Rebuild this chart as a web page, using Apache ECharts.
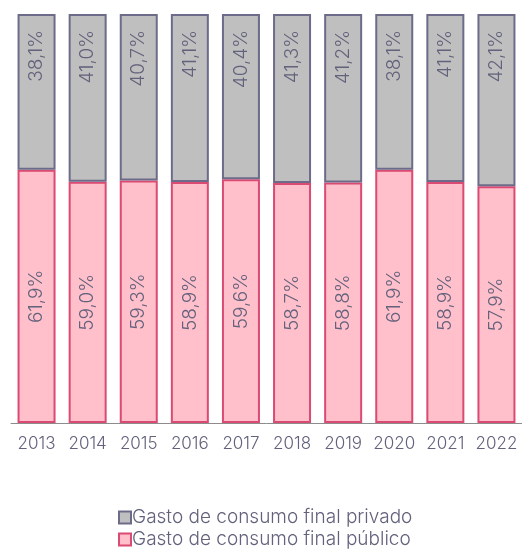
<!DOCTYPE html>
<html>
<head>
<meta charset="utf-8">
<script src="https://cdn.jsdelivr.net/npm/echarts@6/dist/echarts.min.js"></script>
<style>
  html, body { margin: 0; padding: 0; background: #fff; }
  #chart { width: 522px; height: 552px; }
</style>
</head>
<body>
<div id="chart"></div>
<script>
// años
var years = ['2013', '2014', '2015', '2016', '2017', '2018', '2019', '2020', '2021', '2022'];
// gasto de consumo final público (%)
var publico = [61.9, 59.0, 59.3, 58.9, 59.6, 58.7, 58.8, 61.9, 58.9, 57.9];
// gasto de consumo final privado (%)
var privado = [38.1, 41.0, 40.7, 41.1, 40.4, 41.3, 41.2, 38.1, 41.1, 42.1];

var textColor = '#62627c';
var font = 'Inter';

function fmt(p) {
  return p.value.toFixed(1).replace('.', ',') + '%';
}

var chart = echarts.init(document.getElementById('chart'));
chart.setOption({
  animation: false,
  textStyle: { fontFamily: font, fontWeight: 300 },
  grid: { left: 11, top: 14, width: 512, height: 409 },
  legend: {
    orient: 'vertical',
    left: 113,
    top: 502,
    height: 50,
    itemWidth: 12,
    itemHeight: 12,
    itemGap: 1,
    textStyle: { color: textColor, fontSize: 19, lineHeight: 21, fontFamily: font, fontWeight: 300, padding: [0, 0, 0, -4] },
    data: [
      { name: 'Gasto de consumo final privado', icon: 'rect' },
      { name: 'Gasto de consumo final público', icon: 'rect' }
    ]
  },
  xAxis: {
    type: 'category',
    data: years,
    axisLine: { lineStyle: { color: '#8c8c8c', width: 1 } },
    axisTick: { interval: 0, length: 6, lineStyle: { color: '#8c8c8c' } },
    axisLabel: { interval: 0, color: textColor, fontSize: 17, fontWeight: 300, margin: 12 }
  },
  yAxis: {
    type: 'value',
    min: 0,
    max: 100,
    show: false
  },
  series: [
    {
      name: 'Gasto de consumo final público',
      type: 'bar',
      stack: 'total',
      barWidth: 38,
      data: publico,
      itemStyle: { color: '#ffbfcb', borderColor: '#db4a72', borderWidth: 2 },
      label: {
        show: true,
        position: 'inside',
        rotate: 90,
        align: 'center',
        verticalAlign: 'middle',
        color: textColor,
        fontSize: 19,
        fontWeight: 300,
        formatter: fmt
      }
    },
    {
      name: 'Gasto de consumo final privado',
      type: 'bar',
      stack: 'total',
      barWidth: 38,
      data: privado,
      itemStyle: { color: '#bfbfbf', borderColor: '#6c6c8a', borderWidth: 2 },
      label: {
        show: true,
        position: 'insideTop',
        distance: 16,
        rotate: 90,
        align: 'right',
        verticalAlign: 'middle',
        color: textColor,
        fontSize: 19,
        fontWeight: 300,
        formatter: fmt
      }
    }
  ]
});
</script>
</body>
</html>
